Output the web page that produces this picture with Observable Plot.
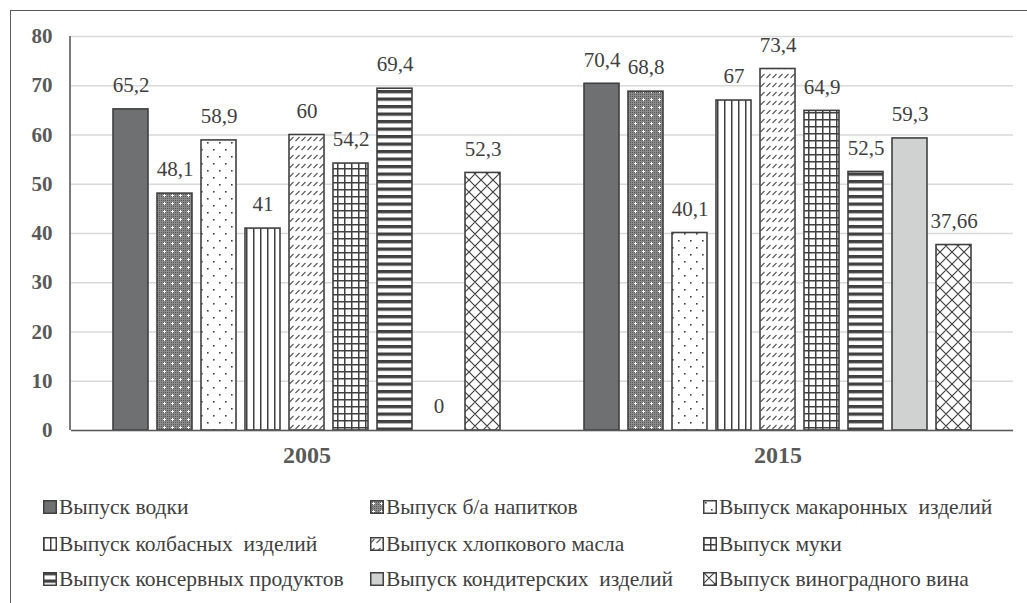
<!DOCTYPE html>
<html>
<head>
<meta charset="utf-8">
<script src="https://cdn.jsdelivr.net/npm/d3@7"></script>
<script src="https://cdn.jsdelivr.net/npm/@observablehq/plot@0.6"></script>
<style>
  html, body { margin: 0; padding: 0; background: #fff; }
  #wrap { position: relative; width: 1027px; height: 603px; overflow: hidden; font-family: "Liberation Serif", "Tinos", "Times New Roman", serif; }
  #frame { position: absolute; left: 10px; top: 10px; width: 1100px; height: 700px; border-left: 1.5px solid #5a5a5a; border-top: 1.5px solid #5a5a5a; }
  #chart { position: absolute; left: 0; top: 0; }
  .leg { position: absolute; display: flex; align-items: center; font-size: 21.5px; color: #404040; white-space: pre; }
  .leg svg { margin-right: 2px; }
</style>
</head>
<body>
<div id="wrap">
  <div id="frame"></div>
  <div id="chart"></div>
  <div id="legend"></div>
</div>
<script>
const years = ["2005", "2015"];
const categories = [
  "Выпуск водки",
  "Выпуск б/а напитков",
  "Выпуск макаронных  изделий",
  "Выпуск колбасных  изделий",
  "Выпуск хлопкового масла",
  "Выпуск муки",
  "Выпуск консервных продуктов",
  "Выпуск кондитерских  изделий",
  "Выпуск виноградного вина"
];
const values2005 = [65.2, 48.1, 58.9, 41, 60, 54.2, 69.4, 0, 52.3];
const values2015 = [70.4, 68.8, 40.1, 67, 73.4, 64.9, 52.5, 59.3, 37.66];
const labels2005 = ["65,2", "48,1", "58,9", "41", "60", "54,2", "69,4", "0", "52,3"];
const labels2015 = ["70,4", "68,8", "40,1", "67", "73,4", "64,9", "52,5", "59,3", "37,66"];
const patternIds = ["pVodka", "pBa", "pMak", "pKol", "pXlop", "pMuka", "pKons", "pKond", "pVino"];
const yTicks = [0, 10, 20, 30, 40, 50, 60, 70, 80];

const data = years.flatMap((year, yi) => categories.map((cat, i) => ({
  year, cat,
  value: (yi === 0 ? values2005 : values2015)[i],
  label: (yi === 0 ? labels2005 : labels2015)[i],
  fill: `url(#${patternIds[i]})`
})));

const font = "'Liberation Serif', 'Tinos', 'Times New Roman', serif";

const chart = Plot.plot({
  width: 1027,
  height: 472,
  marginLeft: 70,
  marginRight: 14,
  marginTop: 36,
  marginBottom: 42,
  style: { fontFamily: font, background: "transparent", overflow: "visible" },
  fx: { domain: years, padding: 0, label: null },
  x: { domain: categories, paddingInner: 0.215, paddingOuter: 0.88, axis: null },
  y: { domain: [0, 80], label: null },
  color: { type: "identity" },
  marks: [
    Plot.gridY(yTicks, { stroke: "#d9d9d9", strokeOpacity: 1, strokeWidth: 1.3 }),
    Plot.axisY(yTicks, { tickSize: 0, tickPadding: 19, fontSize: 21, fontWeight: "bold", fill: "#595959", label: null }),
    Plot.axisFx({ anchor: "bottom", tickSize: 0, tickPadding: 15, fontSize: 24, fontWeight: "bold", fill: "#595959", label: null }),
    Plot.barY(data, { fx: "year", x: "cat", y: "value", fill: "fill", stroke: "#404040", strokeWidth: 1.6 }),
    Plot.text(data, { fx: "year", x: "cat", y: "value", text: "label", dy: -24, fontSize: 21, fill: "#404040", lineAnchor: "middle" }),
    Plot.ruleY([0], { stroke: "#595959", strokeWidth: 1.6 })
  ]
});

document.getElementById("chart").appendChild(chart);

// Pattern definitions
const svg = d3.select(chart);
const defs = svg.insert("defs", ":first-child");
const dk = "#404040";

function pat(id, w, h) {
  return defs.append("pattern").attr("id", id).attr("patternUnits", "userSpaceOnUse").attr("width", w).attr("height", h);
}
pat("pVodka", 4, 4).append("rect").attr("width", 4).attr("height", 4).attr("fill", "#6e7072");
{
  const p = pat("pBa", 8, 8);
  p.append("rect").attr("width", 8).attr("height", 8).attr("fill", "#8a8a8a");
  for (let i = 0; i < 8; i += 2) for (let j = 0; j < 8; j += 2) {
    p.append("rect").attr("x", i).attr("y", j).attr("width", 1).attr("height", 1).attr("fill", "#5a5a5a");
  }
  p.append("rect").attr("x", 3).attr("y", 2).attr("width", 1).attr("height", 3).attr("fill", "#fff");
  p.append("rect").attr("x", 2).attr("y", 3).attr("width", 3).attr("height", 1).attr("fill", "#fff");
}
{
  const p = pat("pMak", 12, 14);
  p.append("rect").attr("width", 12).attr("height", 14).attr("fill", "#fff");
  p.append("rect").attr("x", 2).attr("y", 2).attr("width", 1.6).attr("height", 1.6).attr("fill", dk);
  p.append("rect").attr("x", 8).attr("y", 9).attr("width", 1.6).attr("height", 1.6).attr("fill", dk);
}
{
  const p = pat("pKol", 7, 7);
  p.append("rect").attr("width", 7).attr("height", 7).attr("fill", "#fff");
  p.append("rect").attr("x", 0).attr("width", 1.5).attr("height", 7).attr("fill", dk);
}
{
  const p = pat("pXlop", 6, 9);
  p.append("rect").attr("width", 6).attr("height", 9).attr("fill", "#fff");
  p.append("line").attr("x1", 0.5).attr("y1", 6).attr("x2", 4.5).attr("y2", 2).attr("stroke", "#555").attr("stroke-width", 1.1);
}
{
  const p = pat("pMuka", 7, 7);
  p.append("rect").attr("width", 7).attr("height", 7).attr("fill", "#fff");
  p.append("rect").attr("x", 0).attr("width", 1.5).attr("height", 7).attr("fill", dk);
  p.append("rect").attr("y", 0).attr("width", 7).attr("height", 1.5).attr("fill", dk);
}
{
  const p = pat("pKons", 7, 7.5);
  p.append("rect").attr("width", 7).attr("height", 7.5).attr("fill", "#fff");
  p.append("rect").attr("y", 0).attr("width", 7).attr("height", 3.3).attr("fill", dk);
}
pat("pKond", 4, 4).append("rect").attr("width", 4).attr("height", 4).attr("fill", "#d0d1d1");
{
  const p = pat("pVino", 12, 12);
  p.append("rect").attr("width", 12).attr("height", 12).attr("fill", "#fff");
  p.append("path").attr("d", "M0,0L12,12M12,0L0,12M-6,6L6,18M6,-6L18,6M-6,6L6,-6M6,18L18,6").attr("stroke", dk).attr("stroke-width", 1.2);
}

// Left axis line, from the library's y scale
const ys = chart.scale("y");
svg.append("line")
  .attr("x1", 70).attr("x2", 70)
  .attr("y1", ys.apply(80)).attr("y2", ys.apply(0))
  .attr("stroke", "#595959").attr("stroke-width", 1.6);

// Legend
const legendCols = [43, 370, 703];
const legendRows = [507, 544, 579];
const legend = document.getElementById("legend");
categories.forEach((cat, i) => {
  const col = i % 3, row = Math.floor(i / 3);
  const el = document.createElement("div");
  el.className = "leg";
  el.style.left = legendCols[col] + "px";
  el.style.top = (legendRows[row] - 13) + "px";
  el.style.height = "26px";
  el.innerHTML = `<svg width="14" height="14"><rect x="0.75" y="0.75" width="12.5" height="12.5" fill="url(#${patternIds[i]})" stroke="#404040" stroke-width="1.5"/></svg><span>${cat}</span>`;
  legend.appendChild(el);
});
</script>
</body>
</html>
